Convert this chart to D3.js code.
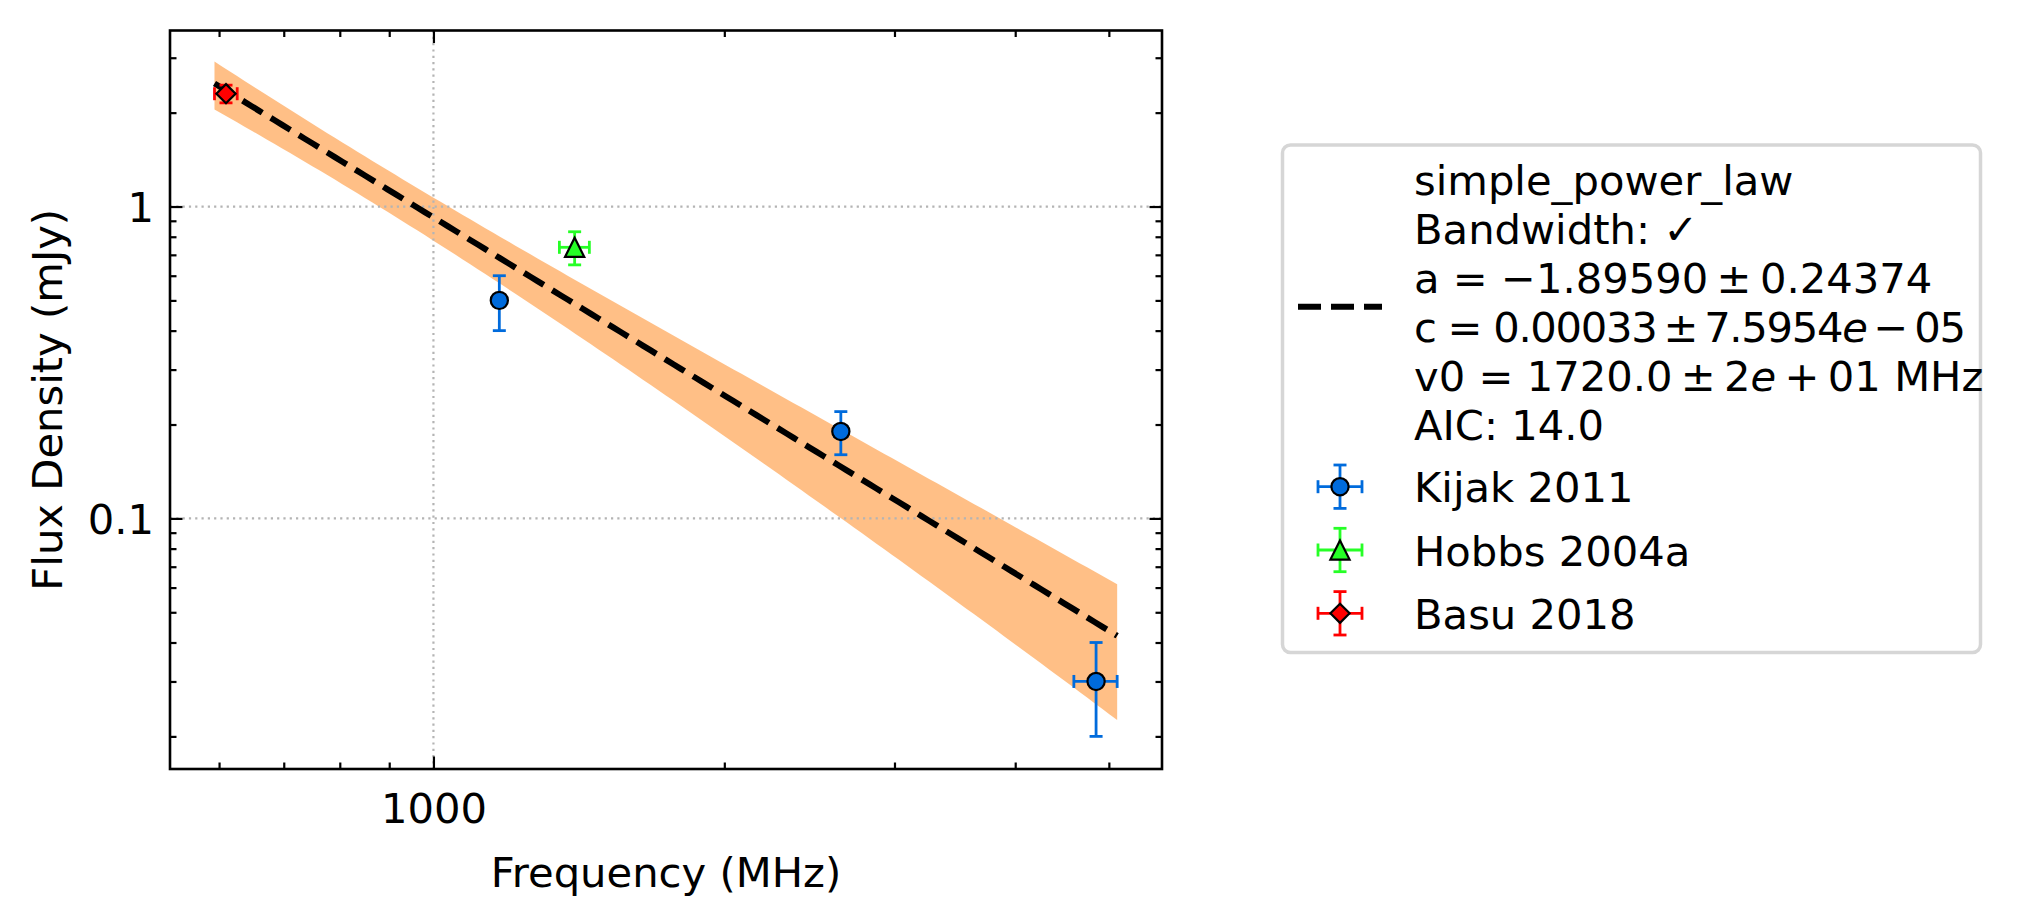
<!DOCTYPE html>
<html><head><meta charset="utf-8">
<script src="https://cdn.jsdelivr.net/npm/d3@7"></script>
<style>
body{margin:0;background:#fff}
text{font-family:"DejaVu Sans",sans-serif;fill:#000}
</style>
</head><body>
<svg id="chart" width="2040" height="914"></svg>
<script>
// ---------------- data ----------------
const kijakFreq = [1170, 2640, 4850];          // MHz
const kijakFreqErr = [10, 40, 250];
const kijakFlux = [0.5, 0.19, 0.03];           // mJy
const kijakFluxErr = [0.1, 0.03, 0.01];

const hobbsFreq = [1400];
const hobbsFreqErr = [50];
const hobbsFlux = [0.74];
const hobbsFluxErr = [0.09];

const basuFreq = [610];
const basuFreqErr = [16.5];
const basuFlux = [2.3];
const basuFluxErr = [0.15];

// fitted simple power law: S = c (v/v0)^a  (c in Jy)
const fitA = -1.89590, fitAErr = 0.24374;
const fitC = 0.00033, fitCErr = 7.5954e-05;
const fitV0 = 1720.0;
const fitCorr = 0.75;
const fitRange = [593.5, 5100];       // MHz

const xMajorTicks = [1000];
const xMajorLabels = ["1000"];
const xMinorTicks = [600, 700, 800, 900, 2000, 3000, 4000, 5000];
const yMajorTicks = [0.1, 1];
const yMajorLabels = ["0.1", "1"];
const yMinorTicks = [0.02,0.03,0.04,0.05,0.06,0.07,0.08,0.09,0.2,0.3,0.4,0.5,0.6,0.7,0.8,0.9,2,3];

const fitLegendLines = [
  "simple_power_law",
  "Bandwidth: \u2713",
  "a = \u22121.89590\u2009\u00b1\u20090.24374",
  "c = 0.00033\u2009\u00b1\u20097.5954@e\u2009\u2212\u200905",
  "v0 = 1720.0\u2009\u00b1\u20092@e\u2009+\u200901 MHz",
  "AIC: 14.0"
];
const fitLegendWidths = [null, null, null, 552, null, null];
const seriesNames = ["Kijak 2011", "Hobbs 2004a", "Basu 2018"];
const seriesColors = ["#006bdc", "#26ff26", "#ff0000"];
const seriesMarkers = ["circle", "triangle", "diamond"];

// ---------------- layout ----------------
const L = 170, R = 1162, T = 30.5, B = 769;
const FS = 41.7;
const svg = d3.select("#chart");

const x = d3.scaleLog().domain([533.8, 5675]).range([L, R]);
const y = d3.scaleLog().domain([0.01572, 3.668]).range([B, T]);

// ---------------- band + fit ----------------
const nS = 120;
const fitFreq = d3.range(nS + 1).map(i => fitRange[0] * Math.pow(fitRange[1] / fitRange[0], i / nS));
function model(v) { return fitC * Math.pow(v / fitV0, fitA) * 1000; }
function modelErr(v) {
  const Lg = Math.log(v / fitV0), rc = fitCErr / fitC;
  const rel2 = rc * rc + Lg * Lg * fitAErr * fitAErr + 2 * fitCorr * Lg * fitAErr * rc;
  return model(v) * Math.sqrt(rel2);
}
const band = d3.area().x(v => x(v)).y0(v => y(model(v) - modelErr(v))).y1(v => y(model(v) + modelErr(v)));
svg.append("path").attr("d", band(fitFreq)).attr("fill", "#ff7f0e").attr("fill-opacity", 0.5);

// ---------------- grid ----------------
const grid = svg.append("g");
xMajorTicks.forEach(t => grid.append("line").attr("x1", x(t)).attr("x2", x(t)).attr("y1", T).attr("y2", B));
yMajorTicks.forEach(t => grid.append("line").attr("x1", L).attr("x2", R).attr("y1", y(t)).attr("y2", y(t)));
grid.selectAll("line").attr("stroke", "#b4b4b4").attr("stroke-width", 2.2).attr("stroke-dasharray", "2.2,4.1");

// fit line
const line = d3.line().x(v => x(v)).y(v => y(model(v)));
svg.append("path").attr("d", line(fitFreq)).attr("fill", "none").attr("stroke", "#000")
  .attr("stroke-width", 6).attr("stroke-dasharray", "23,10");

// ---------------- markers ----------------
function markerPath(type) {
  if (type === "circle") return d3.symbol().type(d3.symbolCircle).size(Math.PI * 8.6 * 8.6)();
  if (type === "triangle") return "M0,-9.6L9.6,9.6L-9.6,9.6Z";
  return "M0,-9.6L9.6,0L0,9.6L-9.6,0Z";
}
function drawErrBar(g, cx, cy, x0, x1, y0, y1, color) {
  const cap = 6.5, w = 2.8;
  const e = g.append("g").attr("stroke", color).attr("stroke-width", w);
  e.append("line").attr("x1", x0).attr("x2", x1).attr("y1", cy).attr("y2", cy);
  e.append("line").attr("x1", cx).attr("x2", cx).attr("y1", y0).attr("y2", y1);
  [x0, x1].forEach(xx => e.append("line").attr("x1", xx).attr("x2", xx).attr("y1", cy - cap).attr("y2", cy + cap));
  [y0, y1].forEach(yy => e.append("line").attr("x1", cx - cap).attr("x2", cx + cap).attr("y1", yy).attr("y2", yy));
}
const series = [
  {f: kijakFreq, fe: kijakFreqErr, s: kijakFlux, se: kijakFluxErr},
  {f: hobbsFreq, fe: hobbsFreqErr, s: hobbsFlux, se: hobbsFluxErr},
  {f: basuFreq, fe: basuFreqErr, s: basuFlux, se: basuFluxErr}
];
const pts = svg.append("g");
series.forEach((sr, k) => {
  sr.f.forEach((f, i) => {
    const cx = x(f), cy = y(sr.s[i]);
    drawErrBar(pts, cx, cy, x(f - sr.fe[i]), x(f + sr.fe[i]), y(sr.s[i] + sr.se[i]), y(sr.s[i] - sr.se[i]), seriesColors[k]);
  });
  sr.f.forEach((f, i) => {
    pts.append("path").attr("d", markerPath(seriesMarkers[k]))
      .attr("transform", `translate(${x(f)},${y(sr.s[i])})`)
      .attr("fill", seriesColors[k]).attr("stroke", "#000").attr("stroke-width", 2.2);
  });
});

// ---------------- axes ----------------
function styleAxis(g) {
  g.select(".domain").remove();
  g.selectAll(".tick line").attr("stroke", "#000").attr("stroke-width", 2.2);
}
const maj = 12.5, mnr = 6.5;
// bottom
svg.append("g").attr("transform", `translate(0,${B})`)
  .call(d3.axisBottom(x).tickValues(xMinorTicks).tickSize(-mnr).tickSizeOuter(0).tickFormat(""))
  .call(styleAxis);
const xb = svg.append("g").attr("transform", `translate(0,${B})`)
  .call(d3.axisBottom(x).tickValues(xMajorTicks).tickSize(-maj).tickSizeOuter(0).tickPadding(14.6)
    .tickFormat((d, i) => xMajorLabels[i]))
  .call(styleAxis);
xb.selectAll(".tick text").attr("font-size", FS).attr("dy", null).attr("y", 54).attr("fill", "#000")
  .style("font-family", "'DejaVu Sans', sans-serif");
// top
svg.append("g").attr("transform", `translate(0,${T})`)
  .call(d3.axisTop(x).tickValues(xMinorTicks).tickSize(-mnr).tickSizeOuter(0).tickFormat("")).call(styleAxis);
svg.append("g").attr("transform", `translate(0,${T})`)
  .call(d3.axisTop(x).tickValues(xMajorTicks).tickSize(-maj).tickSizeOuter(0).tickFormat("")).call(styleAxis);
// left
svg.append("g").attr("transform", `translate(${L},0)`)
  .call(d3.axisLeft(y).tickValues(yMinorTicks).tickSize(-mnr).tickSizeOuter(0).tickFormat("")).call(styleAxis);
const yl = svg.append("g").attr("transform", `translate(${L},0)`)
  .call(d3.axisLeft(y).tickValues(yMajorTicks).tickSize(-maj).tickSizeOuter(0).tickPadding(15)
    .tickFormat((d, i) => yMajorLabels[i]))
  .call(styleAxis);
yl.selectAll(".tick text").attr("font-size", FS).attr("dy", 15).attr("x", -16).attr("fill", "#000")
  .style("font-family", "'DejaVu Sans', sans-serif");
// right
svg.append("g").attr("transform", `translate(${R},0)`)
  .call(d3.axisRight(y).tickValues(yMinorTicks).tickSize(-mnr).tickSizeOuter(0).tickFormat("")).call(styleAxis);
svg.append("g").attr("transform", `translate(${R},0)`)
  .call(d3.axisRight(y).tickValues(yMajorTicks).tickSize(-maj).tickSizeOuter(0).tickFormat("")).call(styleAxis);

// frame
svg.append("rect").attr("x", L).attr("y", T).attr("width", R - L).attr("height", B - T)
  .attr("fill", "none").attr("stroke", "#000").attr("stroke-width", 2.6);

// axis labels
svg.append("text").attr("x", (L + R) / 2).attr("y", 887).attr("text-anchor", "middle")
  .attr("font-size", FS).text("Frequency (MHz)");
svg.append("text").attr("transform", `translate(62,${(T + B) / 2}) rotate(-90)`).attr("text-anchor", "middle")
  .attr("font-size", FS).text("Flux Density (mJy)");

// ---------------- legend ----------------
const lg = svg.append("g");
lg.append("rect").attr("x", 1282.5).attr("y", 145).attr("width", 698).attr("height", 507.5).attr("rx", 8)
  .attr("fill", "#fff").attr("stroke", "#d6d6d6").attr("stroke-width", 3.5);
const hx = 1340, tx = 1414;
lg.append("line").attr("x1", hx - 42).attr("x2", hx + 42).attr("y1", 306.7).attr("y2", 306.7)
  .attr("stroke", "#000").attr("stroke-width", 6).attr("stroke-dasharray", "23,10");
fitLegendLines.forEach((ln, i) => {
  const t = lg.append("text").attr("x", tx).attr("y", 195 + i * 49).attr("font-size", FS);
  if (fitLegendWidths[i]) t.attr("textLength", fitLegendWidths[i]).attr("lengthAdjust", "spacing");
  const parts = ln.split("@");
  parts.forEach((p, j) => {
    if (j === 0) { t.append("tspan").text(p); }
    else {
      t.append("tspan").attr("font-style", "italic").text(p[0]);
      t.append("tspan").text(p.slice(1));
    }
  });
});
const handleY = [486.7, 550, 613.3];
seriesNames.forEach((nm, k) => {
  const cy = handleY[k];
  drawErrBar(lg, hx, cy, hx - 22, hx + 22, cy - 21.7, cy + 21.7, seriesColors[k]);
  lg.append("path").attr("d", markerPath(seriesMarkers[k])).attr("transform", `translate(${hx},${cy})`)
    .attr("fill", seriesColors[k]).attr("stroke", "#000").attr("stroke-width", 2.2);
  lg.append("text").attr("x", tx).attr("y", cy + 15.5).attr("font-size", FS).text(nm);
});
</script>
</body></html>
